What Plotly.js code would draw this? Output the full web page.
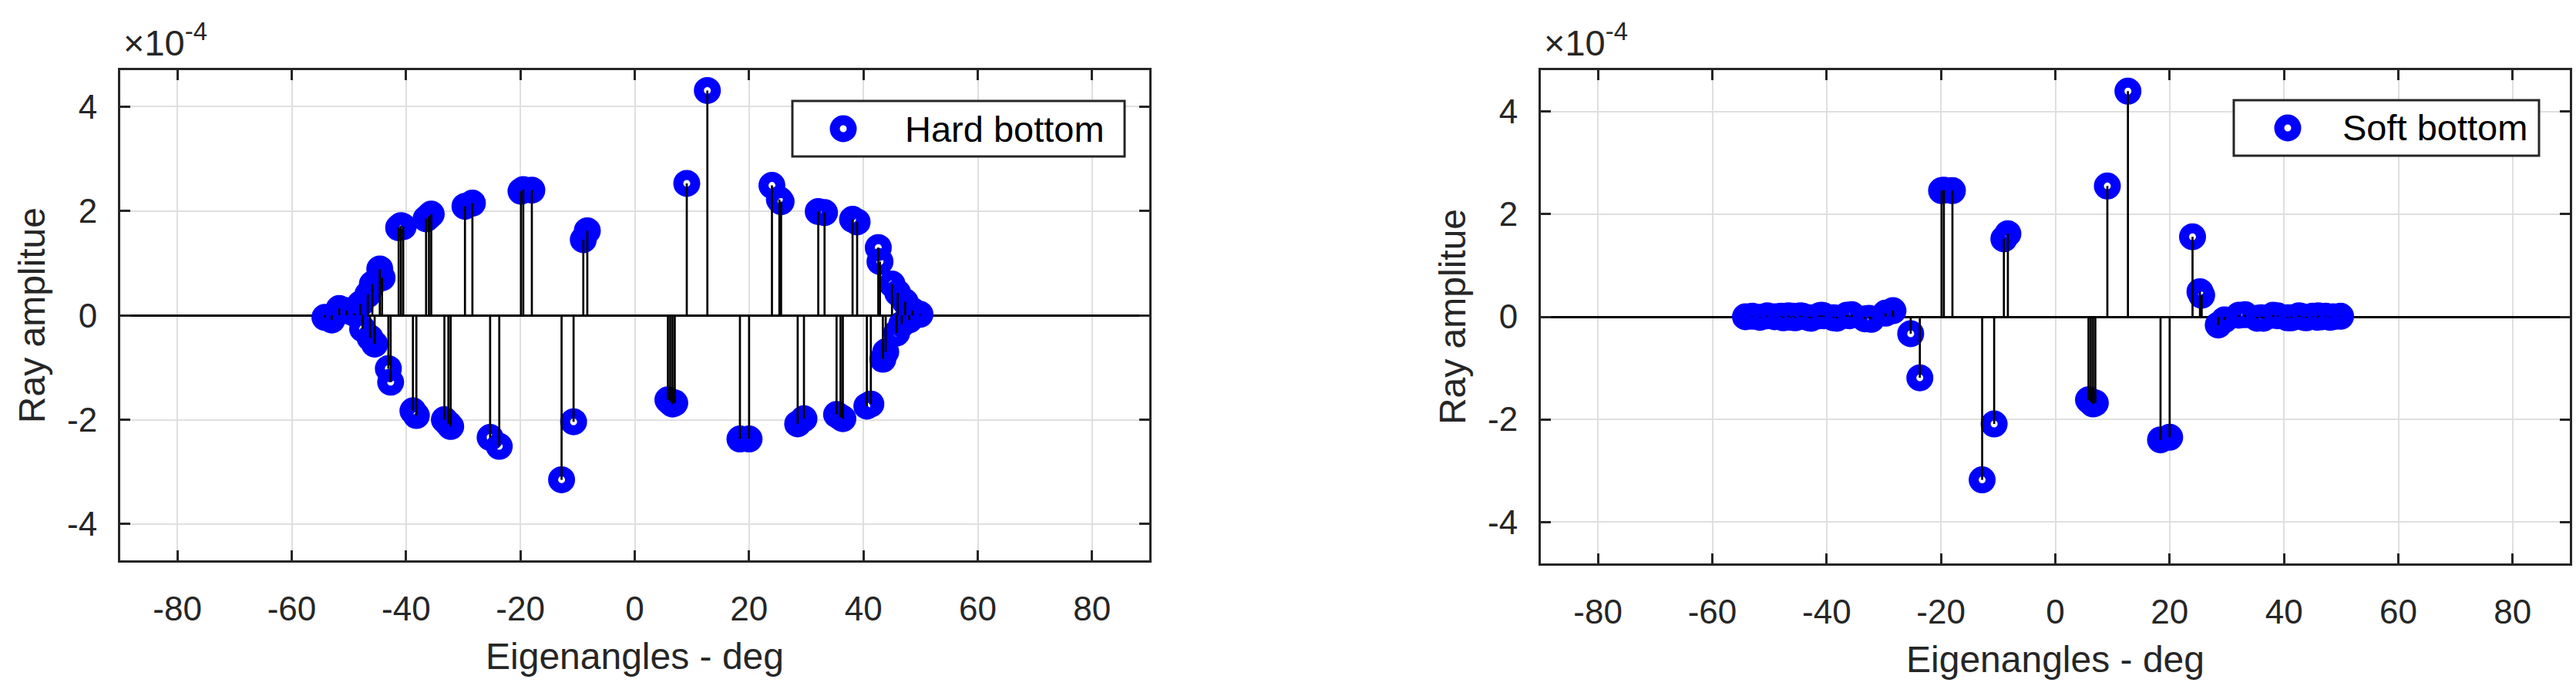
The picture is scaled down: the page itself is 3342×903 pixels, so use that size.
<!DOCTYPE html>
<html><head><meta charset="utf-8">
<script src="https://cdn.plot.ly/plotly-3.0.1.min.js"></script>
<style>html,body{margin:0;padding:0;background:#fff;} #chart{width:3342px;height:903px;}</style>
</head><body><div id="chart"></div>
<script>
// Eigenray launch angles (deg), shared by both panels
const eigenangles = [
  -54.2, -53.0, -51.7, -50.4, -49.1, -48.0, -47.6, -46.7, -46.3, -45.9,
  -45.5, -44.6, -44.2, -43.1, -42.7, -41.3, -40.9, -40.5, -38.8, -38.2,
  -36.5, -36.0, -35.6, -33.3, -32.6, -32.2, -29.7, -28.4, -25.3, -23.7,
  -19.9, -19.5, -18.0, -12.8, -10.7, -9.0, -8.3, 5.8, 6.2, 6.6,
  7.0, 9.1, 12.7, 18.4, 20.0, 24.0, 25.3, 25.6, 28.5, 29.6,
  32.1, 33.2, 35.3, 36.0, 36.4, 38.1, 38.9, 40.6, 41.3, 42.6,
  42.9, 43.4, 43.9, 45.0, 45.8, 46.0, 46.7, 47.3, 48.0, 48.6,
  49.9
];
// Ray amplitudes, in units of 1e-4
const hardAmp = [
  -0.04, -0.09, 0.13, 0.09, 0.04, 0.22, -0.26, 0.40, -0.43, 0.60,
  -0.55, 0.89, 0.72, -1.02, -1.28, 1.68, 1.72, 1.70, -1.83, -1.92,
  1.85, 1.90, 1.94, -2.00, -2.08, -2.13, 2.09, 2.15, -2.34, -2.51,
  2.38, 2.41, 2.40, -3.15, -2.04, 1.45, 1.62, -1.62, -1.66, -1.70,
  -1.68, 2.53, 4.31, -2.37, -2.37, 2.49, 2.22, 2.18, -2.08, -1.98,
  1.99, 1.97, -1.90, -1.95, -1.98, 1.84, 1.79, -1.74, -1.70, 1.30,
  1.03, -0.84, -0.70, 0.60, -0.34, 0.43, -0.17, 0.26, -0.09, 0.09,
  0.02
];
const softAmp = [
  0.00, 0.01, -0.01, 0.02, 0.00, 0.01, -0.02, 0.02, -0.01, 0.01,
  -0.02, 0.02, 0.01, -0.02, -0.03, 0.02, 0.03, 0.02, -0.02, -0.03,
  0.03, 0.02, 0.04, -0.04, -0.03, -0.05, 0.07, 0.12, -0.33, -1.19,
  2.46, 2.47, 2.46, -3.18, -2.09, 1.52, 1.62, -1.62, -1.66, -1.70,
  -1.68, 2.55, 4.40, -2.40, -2.35, 1.56, 0.49, 0.42, -0.16, -0.06,
  0.03, 0.04, -0.03, -0.02, -0.03, 0.03, 0.02, -0.02, -0.02, 0.02,
  0.01, -0.01, -0.02, 0.01, -0.01, 0.02, 0.00, 0.01, -0.01, 0.00,
  0.01
];
const xTickVals = [-80, -60, -40, -20, 0, 20, 40, 60, 80];
const xTickText = ['-80', '-60', '-40', '-20', '0', '20', '40', '60', '80'];
const yTickVals = [-4, -2, 0, 2, 4];
const yTickText = ['-4', '-2', '0', '2', '4'];
const legendNames = ['Hard bottom', 'Soft bottom'];
const xLabel = 'Eigenangles - deg';
const yLabel = 'Ray amplitue';
const yScaleLabel = '×10<sup>-4</sup>';

const W = 3342, H = 903;
const FONT = 'Liberation Sans, Arial, Helvetica, sans-serif';
const AX = '#262626';
const BLUE = '#0000ff';

function stems(xs, ys) {
  const sx = [], sy = [];
  xs.forEach((x, i) => { sx.push(x, x, null); sy.push(0, ys[i], null); });
  return {sx, sy};
}

const panels = [
  {amp: hardAmp, xa: 'x', ya: 'y', px: [156, 1491], py: [91, 727.3], yr: 4.70,
   legBox: [1028, 131, 1459, 203], legMark: [1094, 167], legText: 1172},
  {amp: softAmp, xa: 'x2', ya: 'y2', px: [1999, 3334], py: [91, 731], yr: 4.81,
   legBox: [2898, 130, 3294, 202], legMark: [2968, 166], legText: 3037}
];

const traces = [];
const layout = {
  width: W, height: H, margin: {l: 0, r: 0, t: 0, b: 0},
  paper_bgcolor: '#fff', plot_bgcolor: '#fff', showlegend: false,
  shapes: [], annotations: []
};

panels.forEach((p, k) => {
  traces.push({type: 'scatter', mode: 'markers', x: eigenangles, y: p.amp,
    xaxis: p.xa, yaxis: p.ya, hoverinfo: 'skip', cliponaxis: false,
    marker: {symbol: 'circle-open', size: 22, color: BLUE, line: {width: 13, color: BLUE}}});
  const s = stems(eigenangles, p.amp);
  traces.push({type: 'scatter', mode: 'lines', x: s.sx, y: s.sy,
    xaxis: p.xa, yaxis: p.ya, hoverinfo: 'skip',
    line: {color: '#000', width: 2.7}});

  const suffix = k === 0 ? '' : '2';
  layout['xaxis' + suffix] = {
    domain: [p.px[0] / W, p.px[1] / W], anchor: p.ya, range: [-90, 90],
    tickmode: 'array', tickvals: xTickVals, ticktext: xTickText,
    ticks: 'inside', ticklen: 13, tickwidth: 3, tickcolor: AX,
    showline: true, linecolor: AX, linewidth: 3, mirror: 'ticks',
    showgrid: true, gridcolor: '#dfdfdf', gridwidth: 2, zeroline: false,
    tickfont: {family: FONT, size: 44, color: AX}, ticklabelstandoff: 22,
    title: {text: xLabel, font: {family: FONT, size: 48, color: AX}, standoff: 22},
    automargin: false, fixedrange: true
  };
  layout['yaxis' + suffix] = {
    domain: [1 - p.py[1] / H, 1 - p.py[0] / H], anchor: p.xa, range: [-p.yr, p.yr],
    tickmode: 'array', tickvals: yTickVals, ticktext: yTickText,
    ticks: 'inside', ticklen: 13, tickwidth: 3, tickcolor: AX,
    showline: true, linecolor: AX, linewidth: 3, mirror: 'ticks',
    showgrid: true, gridcolor: '#dfdfdf', gridwidth: 2,
    zeroline: true, zerolinecolor: '#000', zerolinewidth: 3,
    tickfont: {family: FONT, size: 44, color: AX}, ticklabelstandoff: 18,
    title: {text: yLabel, font: {family: FONT, size: 48, color: AX}, standoff: 14},
    automargin: false, fixedrange: true
  };

  // legend box
  const b = p.legBox;
  layout.shapes.push({type: 'rect', xref: 'paper', yref: 'paper', layer: 'above',
    x0: b[0] / W, x1: b[2] / W, y0: 1 - b[3] / H, y1: 1 - b[1] / H,
    line: {color: AX, width: 3}, fillcolor: '#fff'});
  layout.shapes.push({type: 'circle', xref: 'paper', yref: 'paper', layer: 'above',
    xsizemode: 'pixel', ysizemode: 'pixel',
    xanchor: p.legMark[0] / W, yanchor: 1 - p.legMark[1] / H,
    x0: -11, x1: 11, y0: -11, y1: 11,
    line: {color: BLUE, width: 13}, fillcolor: 'rgba(0,0,0,0)'});
  layout.annotations.push({xref: 'paper', yref: 'paper', x: p.legText / W, y: 1 - p.legMark[1] / H,
    xanchor: 'left', yanchor: 'middle', showarrow: false, text: legendNames[k],
    font: {family: FONT, size: 47, color: '#000'}});
  // exponent label
  layout.annotations.push({xref: 'paper', yref: 'paper', x: (p.px[0] + 2) / W, y: 1 - 84 / H,
    xanchor: 'left', yanchor: 'bottom', showarrow: false, text: yScaleLabel,
    font: {family: FONT, size: 47, color: AX}});
});

Plotly.newPlot('chart', traces, layout, {staticPlot: true, displayModeBar: false});
</script>
</body></html>
